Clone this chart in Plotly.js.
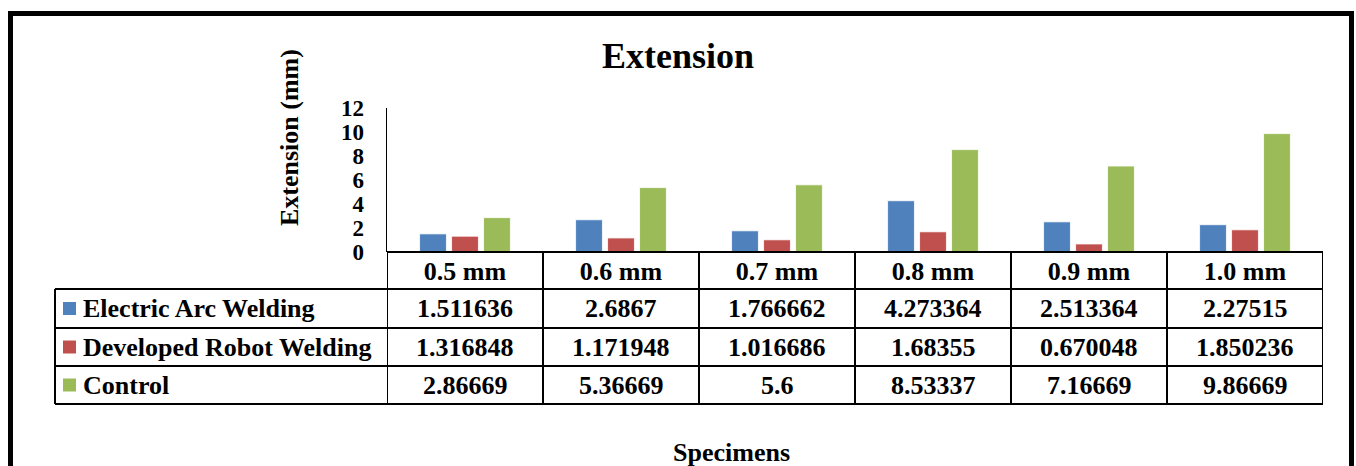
<!DOCTYPE html>
<html>
<head>
<meta charset="utf-8">
<script src="https://cdn.plot.ly/plotly-3.0.1.min.js"></script>
<style>html,body{margin:0;padding:0;background:#fff;}#chart{width:1356px;height:466px;}</style>
</head>
<body>
<div id="chart"></div>
<script>
// ---- data ----
const categories = ["0.5 mm", "0.6 mm", "0.7 mm", "0.8 mm", "0.9 mm", "1.0 mm"];
const seriesNames = ["Electric Arc Welding", "Developed Robot Welding", "Control"];
const electricArc = [1.511636, 2.6867, 1.766662, 4.273364, 2.513364, 2.27515];
const robotWelding = [1.316848, 1.171948, 1.016686, 1.68355, 0.670048, 1.850236];
const control = [2.86669, 5.36669, 5.6, 8.53337, 7.16669, 9.86669];
const yTicks = [0, 2, 4, 6, 8, 10, 12];
const titleText = "Extension";
const yTitleText = "Extension (mm)";
const xTitleText = "Specimens";

// ---- styling / layout ----
const W = 1356, H = 466;
const PL = 387, PR = 1323, PT = 108, PB = 252;
const colors = ["#4F81BD", "#C0504D", "#9BBB59"];
const FONT = '"Liberation Serif", "Times New Roman", Times, serif';
const px2x = p => (p - PL) / (PR - PL);
const py2y = p => (PB - p) / (PB - PT);

const seriesValues = [electricArc, robotWelding, control];
const traces = seriesValues.map((vals, i) => ({
  type: "bar",
  name: seriesNames[i],
  x: categories,
  y: vals,
  marker: {color: colors[i], line: {color: "rgba(255,255,255,0.8)", width: 1}},
  hoverinfo: "x+y+name"
}));

const rowLines = [289, 328, 366, 404];
const rowCenters = [308.5, 347, 385];
const shapes = [];
// outer frame
shapes.push({type: "rect", xref: "paper", yref: "paper",
  x0: px2x(10.5), x1: px2x(1351.5), y0: py2y(13.5), y1: py2y(490),
  line: {color: "#000", width: 5}, fillcolor: "rgba(0,0,0,0)", layer: "below"});
// header top line
shapes.push({type: "line", xref: "paper", yref: "paper",
  x0: px2x(PL), x1: px2x(PR), y0: py2y(PB), y1: py2y(PB), line: {color: "#000", width: 2}});
// row lines
rowLines.forEach(r => shapes.push({type: "line", xref: "paper", yref: "paper",
  x0: px2x(55), x1: px2x(PR), y0: py2y(r), y1: py2y(r), line: {color: "#000", width: 2}}));
// left edge of legend column
shapes.push({type: "line", xref: "paper", yref: "paper",
  x0: px2x(55), x1: px2x(55), y0: py2y(289), y1: py2y(404), line: {color: "#000", width: 2}});
// category boundaries
for (let k = 0; k <= categories.length; k++) {
  shapes.push({type: "line", xref: "x", yref: "paper",
    x0: k - 0.5, x1: k - 0.5, y0: py2y(PB), y1: py2y(404), line: {color: "#000", width: 2}});
}
// legend keys
rowCenters.forEach((c, i) => shapes.push({type: "rect", xref: "paper", yref: "paper",
  x0: px2x(63), x1: px2x(76), y0: py2y(c - 6.5), y1: py2y(c + 6.5),
  line: {width: 0}, fillcolor: colors[i]}));

const annotations = [];
const tfont = {family: FONT, size: 26, color: "#000", weight: "bold"};
seriesNames.forEach((name, i) => {
  annotations.push({xref: "paper", yref: "paper", x: px2x(81), y: py2y(rowCenters[i]),
    xanchor: "left", yanchor: "middle", text: name, showarrow: false, font: tfont});
  seriesValues[i].forEach((v, j) => annotations.push({xref: "x", yref: "paper", x: j,
    y: py2y(rowCenters[i]), xanchor: "center", yanchor: "middle", text: String(v),
    showarrow: false, font: tfont}));
});
// y axis title
annotations.push({xref: "paper", yref: "paper", x: px2x(289), y: py2y(138), textangle: -90,
  xanchor: "center", yanchor: "middle", text: yTitleText, showarrow: false,
  font: {family: FONT, size: 26, color: "#000", weight: "bold"}});
// x axis title
annotations.push({xref: "paper", yref: "paper", x: px2x(731), y: py2y(452),
  xanchor: "center", yanchor: "middle", text: xTitleText, showarrow: false,
  font: {family: FONT, size: 26, color: "#000", weight: "bold"}});

const layout = {
  width: W, height: H,
  margin: {l: PL, r: W - PR, t: PT, b: H - PB, pad: 0},
  paper_bgcolor: "#fff", plot_bgcolor: "#fff",
  showlegend: false,
  title: {text: titleText, x: 0.5, xref: "container", xanchor: "center",
    y: 1 - 55 / H, yref: "container", yanchor: "middle",
    font: {family: FONT, size: 36, color: "#000", weight: "bold"}},
  barmode: "group", bargap: 0.385, bargroupgap: 0.16,
  xaxis: {type: "category", range: [-0.5, 5.5], showline: false, showgrid: false,
    zeroline: false, ticks: "", ticklabelstandoff: 1,
    tickfont: {family: FONT, size: 26, color: "#000", weight: "bold"}, fixedrange: true},
  yaxis: {range: [0, 12], tickvals: yTicks, ticktext: yTicks.map(String), showgrid: false,
    zeroline: false, showline: true, linecolor: "#000", linewidth: 1.5, ticks: "",
    ticklabelstandoff: 17,
    tickfont: {family: FONT, size: 23, color: "#000", weight: "bold"}, fixedrange: true},
  shapes: shapes,
  annotations: annotations
};

Plotly.newPlot("chart", traces, layout, {displayModeBar: false, staticPlot: true});
</script>
</body>
</html>
